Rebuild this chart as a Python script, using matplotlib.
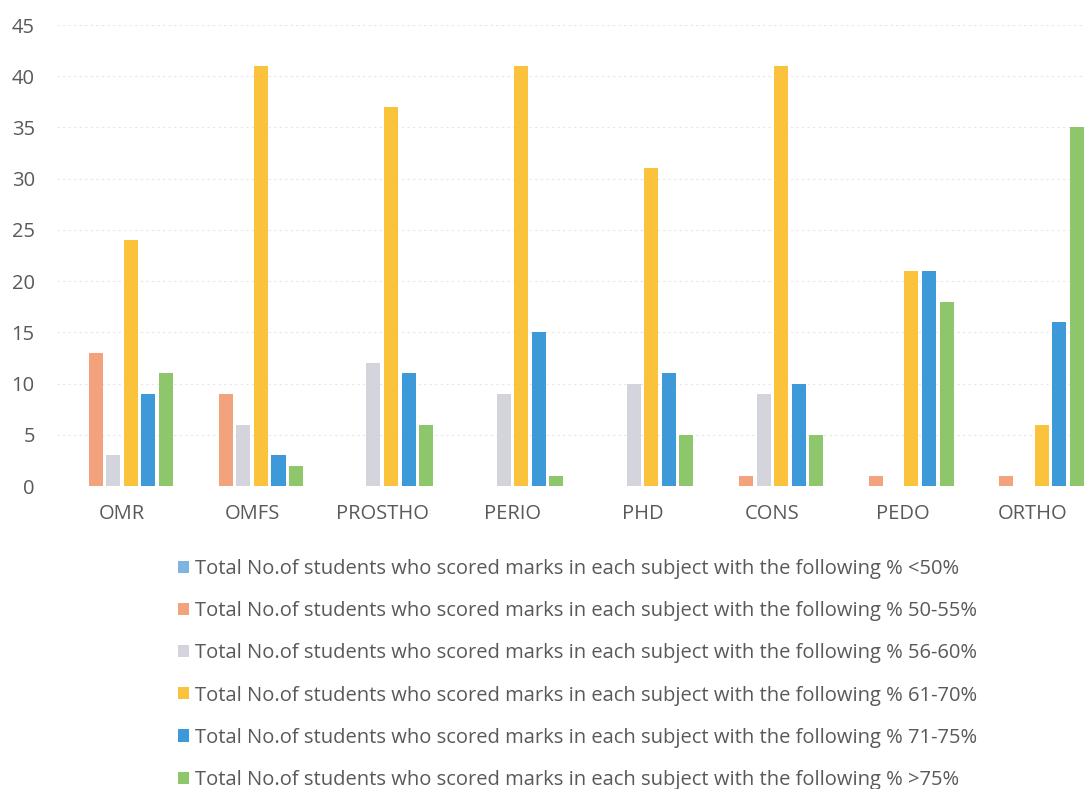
import matplotlib
matplotlib.use("Agg")
import matplotlib.pyplot as plt
import numpy as np

categories = ["OMR", "OMFS", "PROSTHO", "PERIO", "PHD", "CONS", "PEDO", "ORTHO"]
series_labels = [
    "Total No.of students who scored marks in each subject with the following % <50%",
    "Total No.of students who scored marks in each subject with the following % 50-55%",
    "Total No.of students who scored marks in each subject with the following % 56-60%",
    "Total No.of students who scored marks in each subject with the following % 61-70%",
    "Total No.of students who scored marks in each subject with the following % 71-75%",
    "Total No.of students who scored marks in each subject with the following % >75%",
]
below_50 = [0, 0, 0, 0, 0, 0, 0, 0]
p50_55 = [13, 9, 0, 0, 0, 1, 1, 1]
p56_60 = [3, 6, 12, 9, 10, 9, 0, 0]
p61_70 = [24, 41, 37, 41, 31, 41, 21, 6]
p71_75 = [9, 3, 11, 15, 11, 10, 21, 16]
above_75 = [11, 2, 6, 1, 5, 5, 18, 35]
yticks = [0, 5, 10, 15, 20, 25, 30, 35, 40, 45]

series = [below_50, p50_55, p56_60, p61_70, p71_75, above_75]
colors = ["#7DB5E0", "#F2A27C", "#D3D4DC", "#FBC23C", "#3E99D8", "#8EC66C"]

plt.rcParams['font.family'] = ['Open Sans', 'DejaVu Sans']
fig = plt.figure(figsize=(10.85, 7.89), dpi=100)
W, H = 1085, 789
left_px, right_px, top_px, bot_px = 57, 1085, 25, 486
ax = fig.add_axes([left_px / W, 1 - bot_px / H, (right_px - left_px) / W, (bot_px - top_px) / H])

x = np.arange(len(categories))
pitch = 0.135
width = 0.108
handles = []
for i, (vals, col, lab) in enumerate(zip(series, colors, series_labels)):
    b = ax.bar(x + (i - 2.5) * pitch, vals, width=width, color=col, label=lab, zorder=3)
    handles.append(b)

group_w = 130.1
ax.set_xlim(-0.5, -0.5 + (right_px - left_px) / group_w)
ax.set_ylim(0, 45)
ax.set_yticks(yticks)
ax.set_xticks(x)
ax.set_xticklabels(categories)
ax.tick_params(axis='both', length=0, labelsize=14.5, colors="#595959")
ax.tick_params(axis='x', pad=13)
ax.tick_params(axis='y', pad=16)
for s in ax.spines.values():
    s.set_visible(False)
ax.yaxis.grid(True, color="#E6E6E6", linestyle=(0, (2, 3)), linewidth=0.8, zorder=0)
ax.set_axisbelow(True)

leg = fig.legend(handles=handles, labels=series_labels, loc="upper left",
                 bbox_to_anchor=(168 / W, 1 - 549 / H), frameon=False,
                 fontsize=14.5, labelcolor="#595959", handlelength=0.55, handleheight=0.55,
                 handletextpad=0.3, labelspacing=1.1, borderpad=0)

fig.savefig("out.png", dpi=100)
